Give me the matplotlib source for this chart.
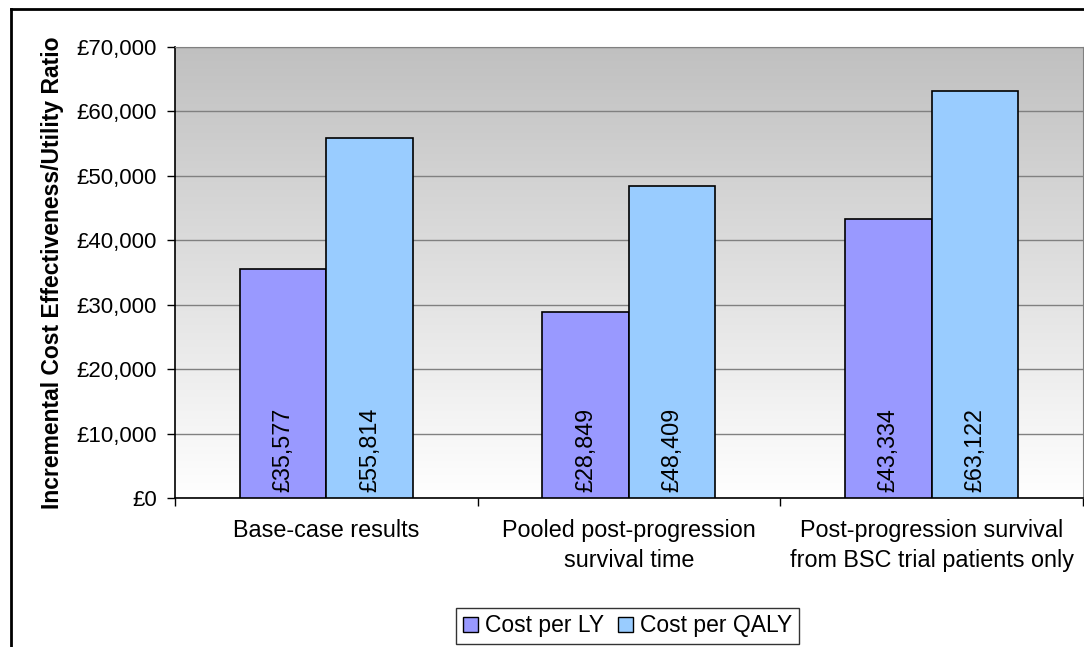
import numpy as np
import matplotlib
matplotlib.use("Agg")
import matplotlib.pyplot as plt
from matplotlib.colors import LinearSegmentedColormap
from matplotlib.ticker import FuncFormatter, MultipleLocator
from matplotlib.lines import Line2D

plt.rcParams['font.family'] = ['Liberation Sans', 'DejaVu Sans']

categories = ["Base-case results",
              "Pooled post-progression\nsurvival time",
              "Post-progression survival\nfrom BSC trial patients only"]
cost_per_ly = [35577, 28849, 43334]
cost_per_qaly = [55814, 48409, 63122]
series_names = ["Cost per LY", "Cost per QALY"]
colors = ["#9999FF", "#99CCFF"]

fig = plt.figure(figsize=(10.84, 6.47), dpi=100)
ax = fig.add_axes([0.1614, 0.2303, 0.8376, 0.6971])

# gradient background
cmap = LinearSegmentedColormap.from_list("bg", ["#FFFFFF", "#C0C0C0"])
grad = np.linspace(0, 1, 256).reshape(-1, 1)
ax.imshow(grad, cmap=cmap, aspect="auto", origin="lower",
          extent=(-0.5, 2.5, 0, 70000), zorder=0)

x = np.arange(len(categories))
w = 0.286
ax.bar(x - w/2, cost_per_ly, w, color=colors[0], edgecolor="black", linewidth=1.2, zorder=3)
ax.bar(x + w/2, cost_per_qaly, w, color=colors[1], edgecolor="black", linewidth=1.2, zorder=3)

for i in range(len(categories)):
    for off, v in ((-w/2, cost_per_ly[i]), (w/2, cost_per_qaly[i])):
        ax.text(x[i] + off, 900, "£{:,}".format(v), rotation=90, ha="center", va="bottom",
                fontsize=16.8, zorder=4)

ax.set_xlim(-0.5, 2.5)
ax.set_ylim(0, 70000)
ax.yaxis.set_major_locator(MultipleLocator(10000))
ax.yaxis.set_major_formatter(FuncFormatter(lambda v, p: "£{:,.0f}".format(v)))
ax.grid(axis="y", color="#808080", linewidth=1, zorder=1)
ax.set_axisbelow(True)

ax.set_xticks([-0.5, 0.5, 1.5, 2.5])
ax.set_xticklabels([])
ax.tick_params(axis="x", length=6, width=1, color="black")
ax.tick_params(axis="y", length=6, width=1, color="black", labelsize=16, pad=7)
for i, c in enumerate(categories):
    ax.text(x[i], -3300, c, ha="center", va="top", fontsize=16.8, linespacing=1.4)

for s in ("top", "right"):
    ax.spines[s].set_color("#808080")
for s in ("left", "bottom"):
    ax.spines[s].set_color("black")
    ax.spines[s].set_linewidth(1.2)

ax.set_ylabel("Incremental Cost Effectiveness/Utility Ratio", fontsize=16.5,
              fontweight="bold", labelpad=9)

handles = [plt.Rectangle((0, 0), 1, 1, facecolor=c, edgecolor="black") for c in colors]
leg = fig.legend(handles, series_names, loc="center", bbox_to_anchor=(0.579, 0.0325),
                 ncol=2, fontsize=16.5, frameon=True, fancybox=False, edgecolor="black",
                 handlelength=0.65, handleheight=0.65, handletextpad=0.3, columnspacing=0.6,
                 borderpad=0.3)
leg.get_frame().set_linewidth(1)

# outer chart border (top and left visible)
fig.add_artist(Line2D([0.0105, 1.0], [0.986, 0.986], color="black", linewidth=2))
fig.add_artist(Line2D([0.0105, 0.0105], [0.0, 0.986], color="black", linewidth=2))

fig.savefig("out.png", dpi=100)
